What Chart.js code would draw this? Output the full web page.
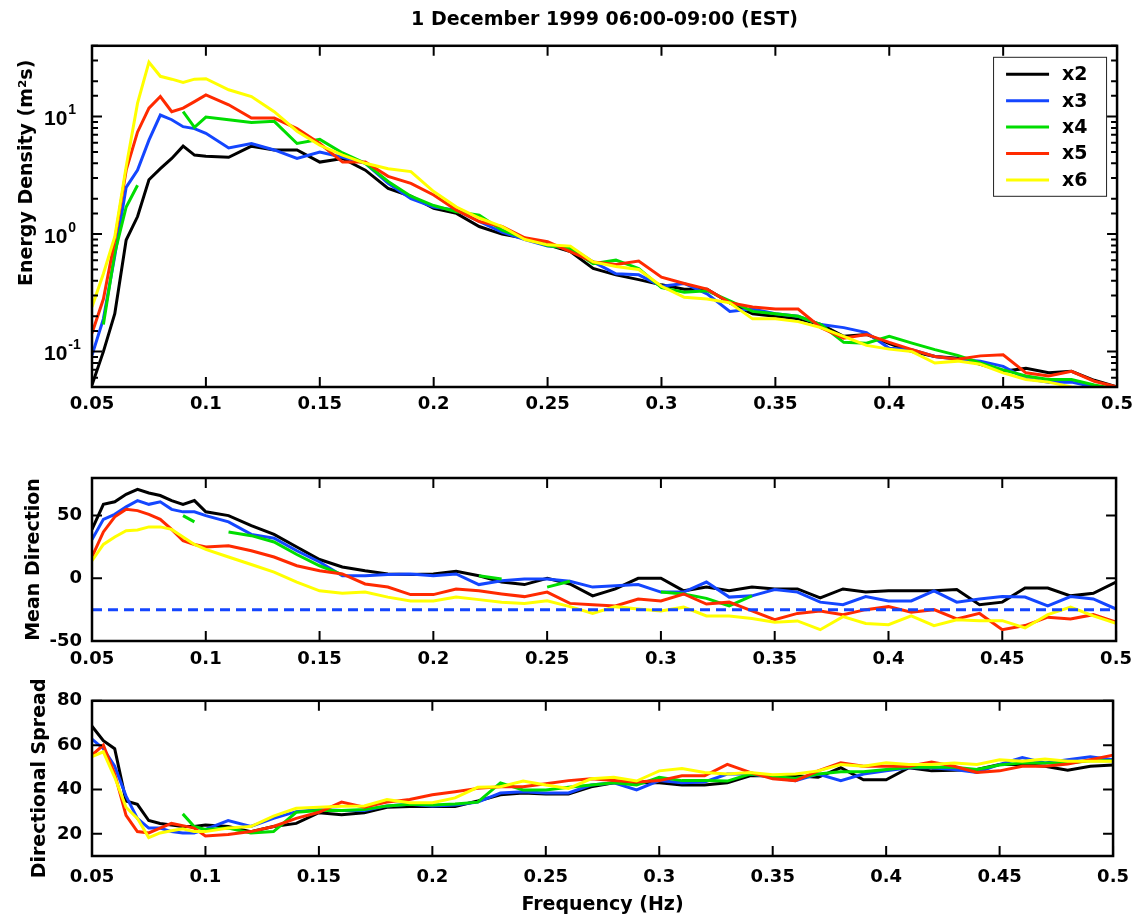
<!DOCTYPE html>
<html>
<head>
<meta charset="utf-8">
<title>1 December 1999 06:00-09:00 (EST)</title>
<script src="https://cdn.jsdelivr.net/npm/chart.js@4.4.0/dist/chart.umd.min.js"></script>
<style>
  body { margin: 0; background: #fff; }
  #wrap { position: relative; width: 1140px; height: 920px; }
  canvas { position: absolute; left: 0; }
</style>
</head>
<body>
<div id="wrap">
  <canvas id="energy" width="1140" height="440" style="top:0px"></canvas>
  <canvas id="direction" width="1140" height="240" style="top:440px"></canvas>
  <canvas id="spread" width="1140" height="240" style="top:680px"></canvas>
</div>
<script>
// frequency bins (Hz)
const freq = [0.05, 0.055, 0.06, 0.065, 0.07, 0.075, 0.08, 0.085, 0.09, 0.095, 0.1,
  0.11, 0.12, 0.13, 0.14, 0.15, 0.16, 0.17, 0.18, 0.19, 0.2,
  0.21, 0.22, 0.23, 0.24, 0.25, 0.26, 0.27, 0.28, 0.29, 0.3,
  0.31, 0.32, 0.33, 0.34, 0.35, 0.36, 0.37, 0.38, 0.39, 0.4,
  0.41, 0.42, 0.43, 0.44, 0.45, 0.46, 0.47, 0.48, 0.49, 0.5];

const seriesNames = ['x2', 'x3', 'x4', 'x5', 'x6'];
const seriesColors = ['#000000', '#1446ff', '#00dd00', '#ff2a00', '#ffff00'];

// energy density (m^2 s)
const energyX2 = [0.052, 0.1, 0.21, 0.89, 1.41, 2.9, 3.6, 4.4, 5.6, 4.7, 4.6,
  4.5, 5.6, 5.2, 5.2, 4.1, 4.4, 3.5, 2.45, 2.1, 1.66,
  1.5, 1.16, 1.0, 0.92, 0.81, 0.71, 0.51, 0.45, 0.41, 0.37,
  0.34, 0.34, 0.26, 0.21, 0.2, 0.19, 0.17, 0.135, 0.14, 0.117,
  0.1, 0.091, 0.088, 0.078, 0.068, 0.072, 0.066, 0.068, 0.057, 0.05];
const energyX3 = [0.093, 0.19, 0.65, 2.5, 3.5, 6.3, 10.3, 9.4, 8.2, 7.9, 7.2,
  5.4, 5.9, 5.2, 4.4, 5.0, 4.5, 4.0, 2.7, 2.0, 1.7,
  1.6, 1.28, 1.04, 0.9, 0.79, 0.77, 0.58, 0.46, 0.45, 0.36,
  0.38, 0.31, 0.22, 0.23, 0.21, 0.2, 0.17, 0.16, 0.145, 0.107,
  0.104, 0.091, 0.086, 0.083, 0.075, 0.059, 0.055, 0.055, 0.05, 0.048];
const energyX4 = [null, 0.17, 0.69, 1.7, 2.6, null, null, null, 11, 8.1, 9.9,
  9.4, 8.9, 9.1, 5.9, 6.4, 4.9, 4.0, 2.8, 2.1, 1.75,
  1.55, 1.45, 1.08, 0.92, 0.8, 0.75, 0.56, 0.6, 0.51, 0.35,
  0.32, 0.33, 0.27, 0.22, 0.21, 0.2, 0.17, 0.12, 0.118, 0.135,
  0.118, 0.104, 0.093, 0.08, 0.07, 0.062, 0.058, 0.058, 0.052, 0.048];
const energyX5 = [0.143, 0.28, 0.89, 3.5, 7.4, 11.8, 14.8, 11, 11.8, 13.4, 15.3,
  12.6, 9.7, 9.7, 7.9, 5.9, 4.1, 4.1, 3.1, 2.7, 2.15,
  1.6, 1.28, 1.16, 0.93, 0.86, 0.71, 0.58, 0.55, 0.59, 0.43,
  0.38, 0.34, 0.26, 0.24, 0.23, 0.23, 0.16, 0.13, 0.14, 0.12,
  0.104, 0.091, 0.086, 0.092, 0.094, 0.066, 0.062, 0.068, 0.056, 0.05];
const energyX6 = [0.24, 0.46, 0.95, 3.75, 13, 29, 22, 20.8, 19.5, 20.8, 21,
  16.9, 14.8, 11, 7.5, 5.7, 4.7, 4.0, 3.6, 3.4, 2.3,
  1.7, 1.37, 1.16, 0.9, 0.81, 0.79, 0.58, 0.53, 0.5, 0.36,
  0.29, 0.28, 0.26, 0.19, 0.19, 0.18, 0.16, 0.135, 0.113, 0.105,
  0.1, 0.08, 0.083, 0.078, 0.066, 0.058, 0.055, 0.05, 0.048, 0.047];

// mean direction (deg)
const dirX2 = [39, 59, 61, 67, 71, 68, 66, 62, 59, 62, 53,
  50, 42, 35, 25, 15, 9, 6, 3.5, 3, 3.5,
  5.6, 2, -3, -5, 0, -4.5, -14, -8.5, 0, 0,
  -10, -7, -10, -7, -8.5, -8.5, -15.7, -8.5, -11, -10,
  -10, -10, -9, -21, -19, -7.7, -7.7, -14, -12, -3];
const dirX3 = [31, 47, 51, 57, 62, 59, 61, 55, 53, 53, 50,
  45, 35, 32, 22, 13, 2, 2, 3, 3.5, 2,
  3.5, -5, -2, -0.5, -0.5, -2.4, -7, -6, -5, -11,
  -11, -3, -15, -14, -9, -11, -19, -21, -14.6, -18,
  -18, -10, -19, -16.5, -14.6, -15, -22, -14.6, -16.5, -24.5];
const dirX4 = [null, null, null, null, null, null, null, null, 50, 45, null,
  37, 34, 29, 19, 10, 3, null, null, null, null,
  null, 2, -0.5, null, -7, -2.4, null, null, null, -11,
  -12.5, -16, -22, -14, null, null, null, null, null, null,
  null, null, null, null, null, null, null, null, null, null];
const dirX5 = [17, 37, 49, 55, 54, 51, 47, 39, 30, 27, 25,
  26, 22, 17, 10, 6, 3.5, -4.5, -7, -13, -13,
  -8.5, -10, -12.5, -14.6, -11, -20, -21, -22, -16.5, -18,
  -12.5, -20.5, -19, -26, -33, -28, -26, -29, -25, -22.6,
  -27, -25, -32.4, -28, -41, -37.7, -31, -32.4, -29, -35];
const dirX6 = [14, 27, 33, 38, 38.5, 41, 41, 39, 33, 27, 23,
  17, 11, 5, -3, -10, -12, -11, -15, -18, -18,
  -15, -17, -19, -20, -18, -22.6, -28, -22.6, -24.5, -26,
  -23, -30, -30, -32, -35, -34, -41, -30.6, -36, -37,
  -30, -37.7, -33, -33.8, -33.8, -39.6, -29, -23, -30, -36];
const dirReference = -25;

// directional spread (deg)
const spreadX2 = [68.5, 62, 58.4, 34.8, 33.3, 26, 24.7, 24, 23.3, 23.3, 24,
  23.3, 21, 23.3, 24.7, 29.5, 28.6, 29.5, 32, 32.3, 32.3,
  32.3, 34.8, 37.6, 38.4, 38, 38, 41.2, 43, 43, 43,
  42, 42, 43, 46.2, 46.2, 46.2, 45.5, 49.8, 44.4, 44.4,
  49.8, 48.4, 48.7, 49, 51.3, 51.3, 50.5, 48.7, 50.5, 51];
const spreadX3 = [62.7, 58.4, 50.5, 37, 27, 22.6, 22.6, 21, 20.4, 20.4, 22,
  26, 23.3, 27, 30, 31, 30.5, 30.5, 32.6, 33.3, 32.6,
  33, 34.3, 38.4, 39, 38.4, 38.4, 42, 43, 39.8, 44,
  43, 43.4, 47, 47, 45.5, 44, 47, 44, 47, 48.4,
  49.8, 49.8, 49, 47.7, 51.3, 54.4, 52, 53.4, 54.8, 53.4];
const spreadX4 = [null, null, null, null, null, null, null, null, 29, 23.3, 22,
  22.6, 20.4, 21, 29.7, 30.5, 30.5, 31, 32.6, 33.3, 33,
  33.5, 34.3, 43, 39.8, 39.8, 41, 42, 43, 42, 45.5,
  44, 44, 43.8, 47, 46, 45, 47, 48, 48, 49,
  50, 50, 50, 49, 51, 52, 52, 52, 53, 53];
const spreadX5 = [55.5, 60, 47, 28.3, 21, 20.4, 22.6, 24.7, 23.7, 22.6, 19,
  19.7, 21, 23.3, 27, 29.7, 34.3, 32, 34.3, 35.5, 37.6,
  39, 40.5, 41.2, 41.2, 42.6, 44, 44.8, 44, 43.4, 44,
  46.2, 46.2, 51.3, 47.7, 44.8, 44, 48.4, 52, 50.5, 50.5,
  50.5, 52.4, 50.5, 47.7, 48.4, 50.5, 50.5, 51.5, 53.4, 55.5];
const spreadX6 = [54.8, 57, 45.5, 32, 27, 18.3, 20.4, 21.4, 22.3, 21, 21,
  22.6, 23.3, 28, 31.5, 32, 32.4, 32.6, 35.5, 34, 34,
  36.2, 41, 41.2, 43.8, 42, 40.5, 44.8, 45.5, 43.8, 48.4,
  49.5, 47.7, 47, 47.7, 46.7, 47, 48.4, 51.3, 50.5, 52,
  51.3, 51.3, 52, 51.3, 53.4, 52.7, 53.8, 52.7, 52.7, 52.7];

const energyTickPowers = [-1, 0, 1];

const FONT = '"DejaVu Sans", sans-serif';
Chart.defaults.font.family = FONT;
Chart.defaults.font.weight = 'bold';
Chart.defaults.font.size = 18;
Chart.defaults.color = '#000';

function buildDatasets(seriesList) {
  return seriesList.map((values, i) => ({
    label: seriesNames[i],
    data: freq.map((f, j) => ({ x: f, y: values[j] })),
    borderColor: seriesColors[i],
    backgroundColor: seriesColors[i],
    borderWidth: 3,
    pointRadius: 0,
    spanGaps: false,
    order: seriesNames.length - i
  }));
}

// MATLAB style box with inward ticks on all four sides
const boxTicks = {
  id: 'boxTicks',
  afterDraw(chart) {
    const { ctx, chartArea: a, scales } = chart;
    ctx.save();
    ctx.strokeStyle = '#000';
    ctx.lineWidth = 2;
    ctx.beginPath();
    scales.x.ticks.forEach(t => {
      const px = scales.x.getPixelForValue(t.value);
      ctx.moveTo(px, a.bottom); ctx.lineTo(px, a.bottom - 10);
      ctx.moveTo(px, a.top); ctx.lineTo(px, a.top + 10);
    });
    const y = scales.y;
    y.ticks.forEach(t => {
      const py = y.getPixelForValue(t.value);
      let len = 10;
      if (y.type === 'logarithmic') {
        const e = Math.log10(t.value);
        if (Math.abs(e - Math.round(e)) > 1e-6) len = 6;
      }
      ctx.moveTo(a.left, py); ctx.lineTo(a.left + len, py);
      ctx.moveTo(a.right, py); ctx.lineTo(a.right - len, py);
    });
    ctx.stroke();
    ctx.lineWidth = 2.5;
    ctx.strokeRect(a.left, a.top, a.right - a.left, a.bottom - a.top);
    ctx.restore();
  }
};

// 10^n labels and the y title of the energy panel
const energyLabels = {
  id: 'energyLabels',
  afterDraw(chart) {
    const { ctx, chartArea: a, scales: { y } } = chart;
    ctx.save();
    ctx.fillStyle = '#000';
    ctx.textBaseline = 'middle';
    ctx.textAlign = 'left';
    energyTickPowers.forEach(p => {
      const py = y.getPixelForValue(Math.pow(10, p));
      ctx.font = 'bold 21px "Liberation Sans", Arial, sans-serif';
      ctx.fillText('10', 44, py + 3);
      const w = ctx.measureText('10').width;
      ctx.font = 'bold 14px "Liberation Sans", Arial, sans-serif';
      ctx.fillText(String(p), 44 + w + 1, py - 6);
    });
    ctx.translate(27, a.top + 127);
    ctx.rotate(-Math.PI / 2);
    ctx.textAlign = 'center';
    ctx.font = 'bold 19px ' + FONT;
    ctx.fillText('Energy Density (m²s)', 0, 0);
    ctx.restore();
  }
};

const legendBox = {
  id: 'legendBox',
  afterDraw(chart) {
    const { ctx, chartArea: a } = chart;
    const sets = chart.data.datasets.filter(d => seriesNames.includes(d.label));
    const w = 113, h = 139;
    const left = a.right - 11 - w, top = a.top + 11;
    ctx.save();
    ctx.fillStyle = '#fff';
    ctx.fillRect(left, top, w, h);
    ctx.strokeStyle = '#222';
    ctx.lineWidth = 1;
    ctx.strokeRect(left + 0.5, top + 0.5, w, h);
    ctx.font = 'bold 19px ' + FONT;
    ctx.textBaseline = 'middle';
    ctx.textAlign = 'left';
    sets.forEach((d, i) => {
      const ly = top + 17.5 + i * 26.4;
      ctx.strokeStyle = d.borderColor;
      ctx.lineWidth = 3;
      ctx.beginPath();
      ctx.moveTo(left + 13, ly);
      ctx.lineTo(left + 56, ly);
      ctx.stroke();
      ctx.fillStyle = '#000';
      ctx.fillText(d.label, left + 69, ly + 1);
    });
    ctx.restore();
  }
};

function freqAxis(labelPad, height, showTitle) {
  return {
    type: 'linear',
    min: 0.05,
    max: 0.5,
    grid: { display: false, drawTicks: false },
    border: { display: false },
    ticks: {
      stepSize: 0.05,
      padding: labelPad,
      maxRotation: 0,
      autoSkip: false,
      callback: v => String(+v.toFixed(2))
    },
    title: {
      display: showTitle,
      text: 'Frequency (Hz)',
      font: { size: 19 },
      padding: { top: 0, bottom: 4 }
    },
    afterFit: s => { s.height = height; }
  };
}

function linearY(min, max, step, title, titlePad) {
  return {
    type: 'linear',
    min: min,
    max: max,
    grid: { display: false, drawTicks: false },
    border: { display: false },
    ticks: { stepSize: step, includeBounds: false, padding: 10 },
    title: { display: true, text: title, font: { size: 19 }, padding: { top: titlePad, bottom: 0 } },
    afterFit: s => { s.width = 92; }
  };
}

function commonOptions(padTop, scales, title) {
  return {
    responsive: false,
    animation: false,
    events: [],
    layout: { padding: { top: padTop, right: 22, bottom: 0, left: 0 } },
    scales: scales,
    plugins: {
      legend: { display: false },
      tooltip: { enabled: false },
      title: title || { display: false }
    }
  };
}

new Chart(document.getElementById('energy'), {
  type: 'line',
  data: { datasets: buildDatasets([energyX2, energyX3, energyX4, energyX5, energyX6]) },
  options: commonOptions(0, {
    x: freqAxis(7, 53, false),
    y: {
      type: 'logarithmic',
      min: 0.05,
      max: 40,
      grid: { display: false, drawTicks: false },
      border: { display: false },
      ticks: { display: false },
      afterFit: s => { s.width = 92; }
    }
  }, {
    display: true,
    text: '1 December 1999 06:00-09:00 (EST)',
    fullSize: false,
    font: { size: 19, weight: 'bold' },
    color: '#000',
    padding: { top: 9, bottom: 14 }
  }),
  plugins: [boxTicks, energyLabels, legendBox]
});

const dirSets = buildDatasets([dirX2, dirX3, dirX4, dirX5, dirX6]);
dirSets.push({
  label: 'reference',
  data: [{ x: freq[0], y: dirReference }, { x: freq[freq.length - 1], y: dirReference }],
  borderColor: '#1446ff',
  borderWidth: 3,
  borderDash: [10, 6],
  pointRadius: 0,
  order: 0
});

new Chart(document.getElementById('direction'), {
  type: 'line',
  data: { datasets: dirSets },
  options: commonOptions(38, {
    x: freqAxis(8, 39, false),
    y: linearY(-50, 80, 50, 'Mean Direction', 23)
  }),
  plugins: [boxTicks]
});

new Chart(document.getElementById('spread'), {
  type: 'line',
  data: { datasets: buildDatasets([spreadX2, spreadX3, spreadX4, spreadX5, spreadX6]) },
  options: commonOptions(13, {
    x: freqAxis(11, 64, true),
    y: linearY(10, 80, 20, 'Directional Spread', 29)
  }),
  plugins: [boxTicks]
});
</script>
</body>
</html>
